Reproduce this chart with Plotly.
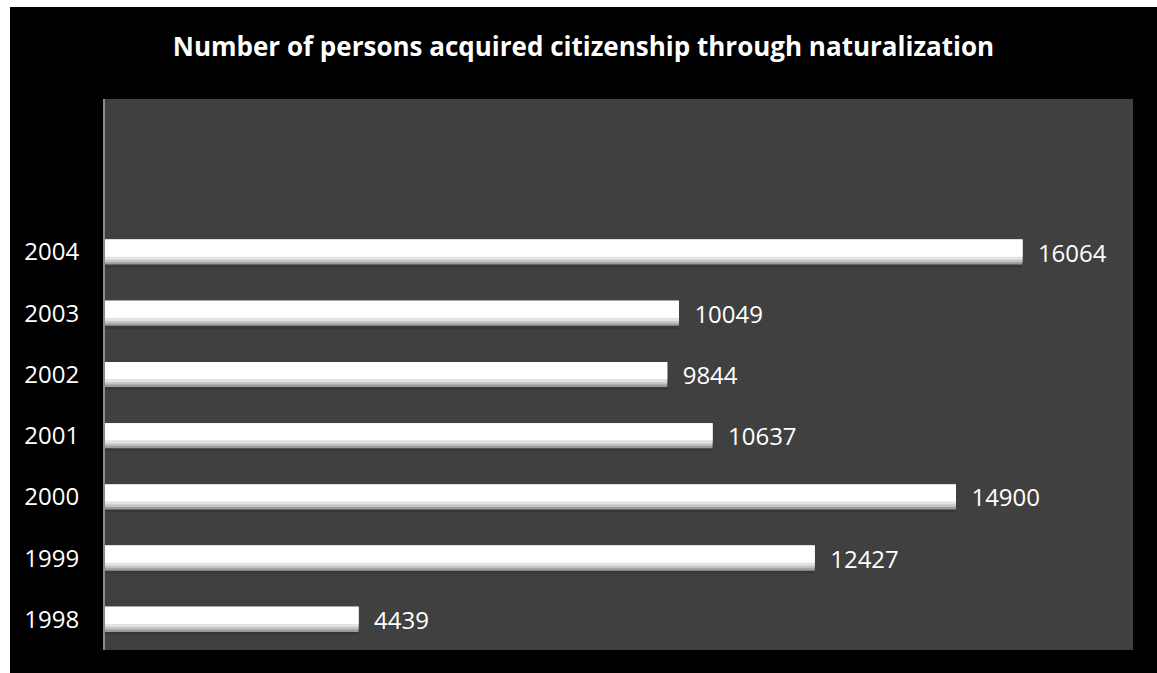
import plotly.graph_objects as go

years = [1998, 1999, 2000, 2001, 2002, 2003, 2004]
values = [4439, 12427, 14900, 10637, 9844, 10049, 16064]
tick_labels = ["1998", "1999", "2000", "2001", "2002", "2003", "2004"]
title_text = "Number of persons acquired citizenship through naturalization"

W, H = 1157, 673
L, R, T, B = 105, 24, 99, 23
pw, ph = W - L - R, H - T - B

fig = go.Figure()

# layered bars to mimic the bevelled 3D look
layers = [
    # (width, offset, color)
    (0.46, -0.255, "#383838"),   # soft shadow
    (0.41, -0.205, "#9c9c9c"),   # bottom edge
    (0.37, -0.165, "#c4c4c4"),
    (0.33, -0.125, "#e2e2e2"),
    (0.28, -0.075, "#ffffff"),   # white top
]
for w, o, c in layers:
    fig.add_trace(go.Bar(
        x=values, y=years, orientation="h",
        width=w, offset=o,
        marker=dict(color=c, line=dict(width=0)),
        hoverinfo="skip", showlegend=False,
    ))

# data labels
fig.add_trace(go.Bar(
    x=values, y=years, orientation="h",
    width=0.41, offset=-0.205,
    marker=dict(color="rgba(0,0,0,0)", line=dict(width=0)),
    text=[str(v) for v in values], texttemplate="\u00a0\u00a0%{text}",
    textposition="outside", cliponaxis=False, constraintext="none",
    textfont=dict(family="Open Sans", size=24, color="#ffffff"),
    hoverinfo="skip", showlegend=False,
))

fig.update_layout(
    width=W, height=H,
    barmode="overlay",
    margin=dict(l=L, r=R, t=T, b=B, pad=0),
    paper_bgcolor="#000000",
    plot_bgcolor="#404040",
    title=dict(
        text="<b>" + title_text + "</b>",
        x=(10 + W) / 2 / W, xanchor="center",
        y=1 - 47 / H, yanchor="middle", yref="container",
        font=dict(family="Open Sans", size=26, color="#ffffff"),
    ),
    xaxis=dict(
        range=[0, 18000], showgrid=False, zeroline=False,
        showticklabels=False, ticks="", showline=False,
    ),
    yaxis=dict(
        range=[1997.5, 2006.5], tickvals=years, ticktext=tick_labels,
        showgrid=False, zeroline=False, ticks="",
        showline=True, linecolor="#8a8a8a", linewidth=2,
        ticklabelstandoff=19,
        tickfont=dict(family="Open Sans", size=24, color="#ffffff"),
    ),
    shapes=[
        # white strip at the top
        dict(type="rect", xref="paper", yref="paper", layer="above",
             x0=-L / pw - 0.01, x1=(W - L) / pw + 0.01,
             y0=(H - B - 7) / ph, y1=(H - B) / ph + 0.01,
             fillcolor="#ffffff", line=dict(width=0)),
        # white strip at the left
        dict(type="rect", xref="paper", yref="paper", layer="above",
             x0=-L / pw - 0.01, x1=(10 - L) / pw,
             y0=-B / ph - 0.01, y1=(H - B) / ph + 0.01,
             fillcolor="#ffffff", line=dict(width=0)),
    ],
)

fig.write_html("out.html")
